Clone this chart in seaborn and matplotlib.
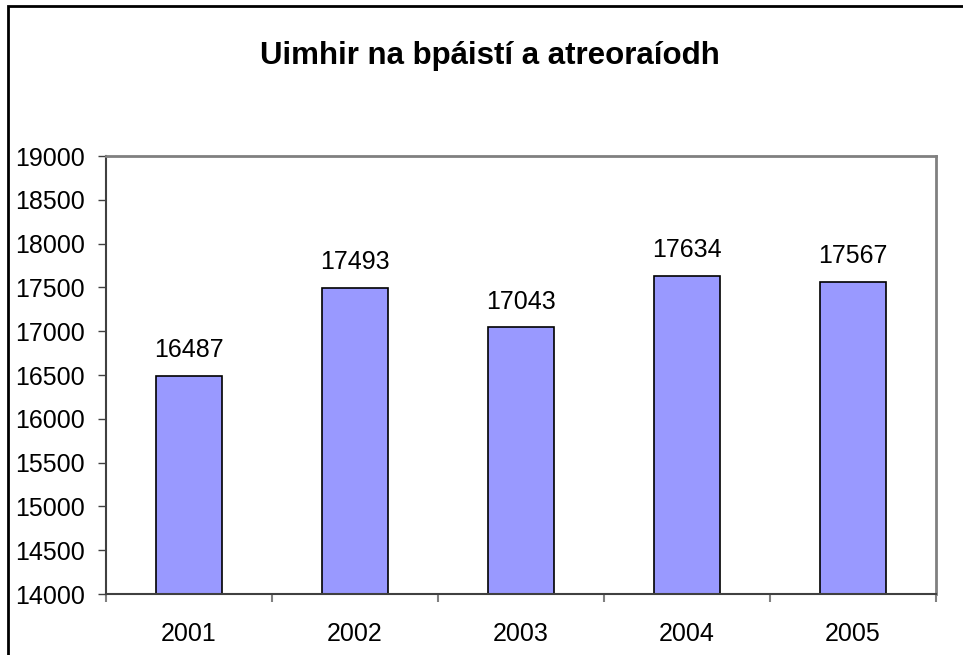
"""
Uimhir na bpáistí a atreoraíodh, 2001-2005
"""
import matplotlib
matplotlib.use("Agg")
import matplotlib.pyplot as plt
import seaborn as sns
import pandas as pd
from matplotlib.patches import Rectangle

years = ['2001', '2002', '2003', '2004', '2005']
counts = [16487, 17493, 17043, 17634, 17567]
y_ticks = list(range(14000, 19001, 500))
title = 'Uimhir na bpáistí a atreoraíodh'

sns.set_style('white')
plt.rcParams['font.family'] = ['Liberation Sans', 'DejaVu Sans']
plt.rcParams['text.color'] = 'black'
plt.rcParams['xtick.labelcolor'] = 'black'
plt.rcParams['ytick.labelcolor'] = 'black'

df = pd.DataFrame({'year': years, 'count': counts})

fig = plt.figure(figsize=(9.63, 6.55), dpi=100)
ax = fig.add_axes([106 / 963, 1 - 594 / 655, 830 / 963, 438 / 655])

sns.barplot(data=df, x='year', y='count', color='#9999FF', width=0.4,
            edgecolor='black', linewidth=1.2, saturation=1, ax=ax)

ax.set_ylim(14000, 19000)
ax.set_yticks(y_ticks)
ax.set_yticklabels([str(t) for t in y_ticks], fontsize=18)
ax.set_xlim(-0.5, 4.5)
ax.set_xticks(range(len(years)))
ax.set_xticklabels(years, fontsize=18)
ax.set_xlabel('')
ax.set_ylabel('')

# ticks between categories on the x axis
ax.set_xticks([i - 0.5 for i in range(len(years) + 1)], minor=True)
ax.tick_params(axis='x', which='major', length=0, pad=20)
ax.tick_params(axis='x', which='minor', length=6, width=1.5, color='#808080',
               direction='out', bottom=True)
ax.tick_params(axis='y', length=6, width=1, color='#404040', direction='out',
               left=True, pad=9)

for side in ['top', 'right']:
    ax.spines[side].set_color('#808080')
    ax.spines[side].set_linewidth(2)
for side in ['left', 'bottom']:
    ax.spines[side].set_color('#404040')
    ax.spines[side].set_linewidth(1.5)

for i, v in enumerate(counts):
    ax.annotate(str(v), (i, v), xytext=(0, 10), textcoords='offset points',
                ha='center', va='bottom', fontsize=18)

fig.text(490 / 963, 1 - 56 / 655, title, ha='center', va='center',
         fontsize=22.5, fontweight='bold')

# outer chart frame (only top and left visible in the crop)
fig.patches.append(Rectangle((8 / 963, -0.2), 1.5, (1 - 6 / 655) + 0.2,
                             transform=fig.transFigure, fill=False,
                             edgecolor='black', linewidth=2))

fig.savefig('out.png', dpi=100)
plt.close(fig)
